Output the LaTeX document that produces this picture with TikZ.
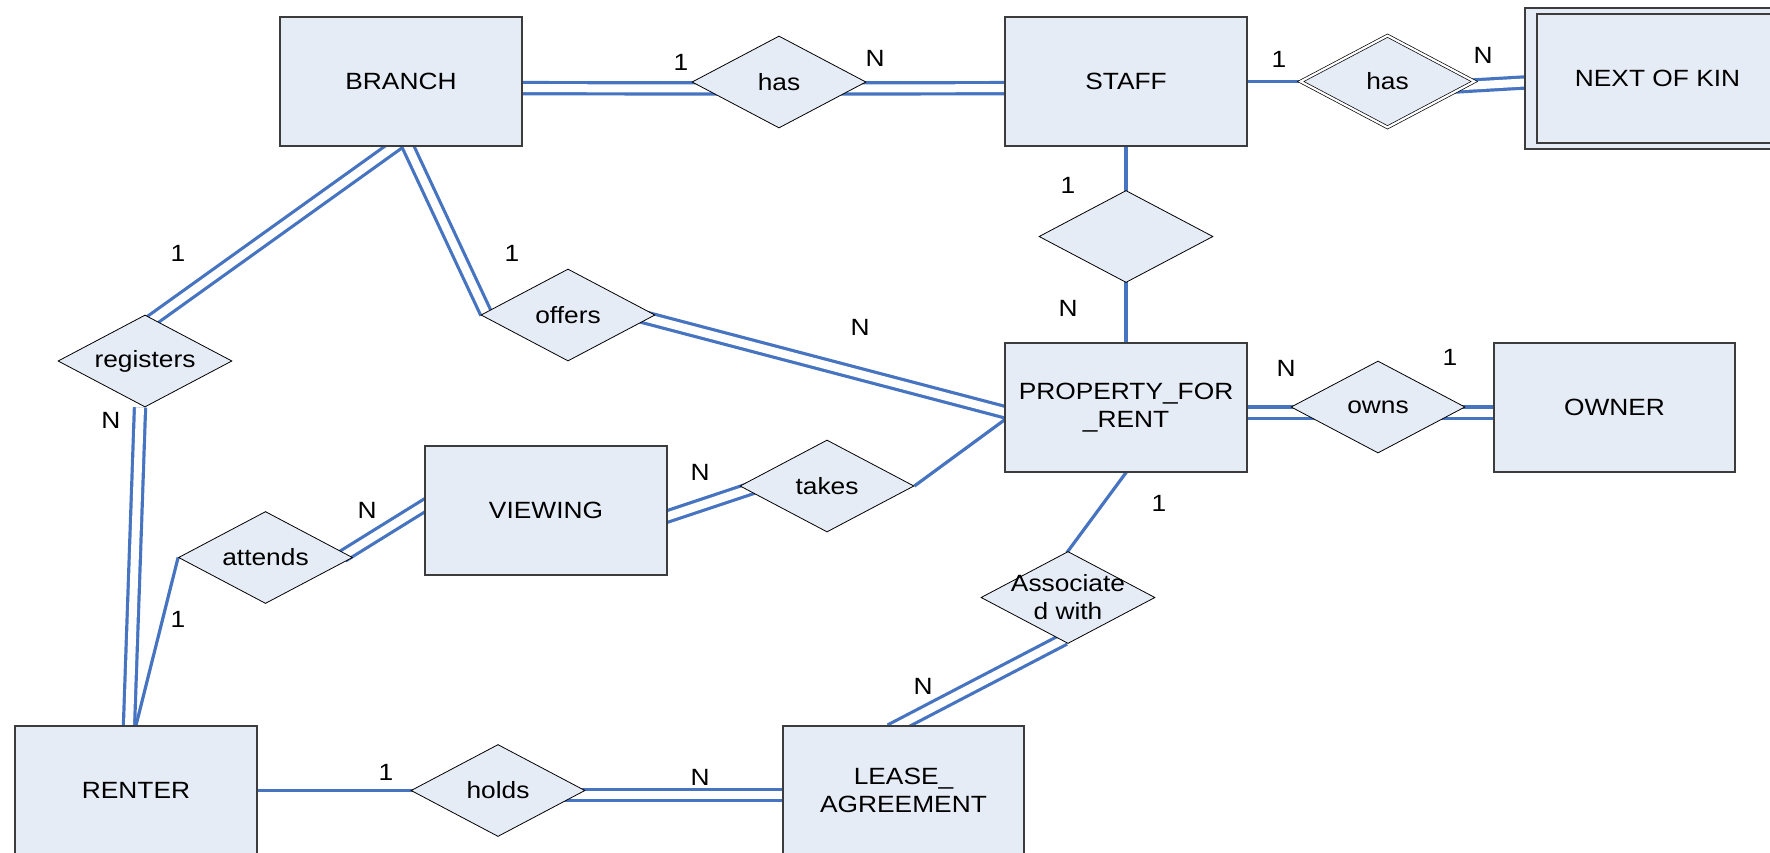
\documentclass[tikz,border=0pt]{standalone}
\usepackage{fontspec}
\setmainfont[FakeStretch=1.12]{Liberation Sans}
\usetikzlibrary{shapes.geometric,backgrounds}
\definecolor{erfill}{RGB}{230,236,246}
\definecolor{erline}{RGB}{70,116,193}
\definecolor{erborder}{RGB}{60,60,60}

\begin{document}
\begin{tikzpicture}[x=1pt,y=-1pt,
  every node/.style={font=\fontsize{23.5}{28}\selectfont, inner sep=2pt},
  entity/.style={rectangle, draw=erborder, line width=1.3pt, fill=erfill,
    minimum width=242pt, minimum height=129pt, align=center},
  rel/.style={diamond, draw=black, line width=0.8pt, fill=erfill,
    minimum width=174pt, minimum height=92pt, inner sep=0pt, aspect=1.89},
  idrel/.style={rel, double=white, double distance=2.2pt, line width=0.7pt},
  card/.style={inner sep=0pt},
  link/.style={draw=erline, line width=3.2pt},
  total/.style={draw=erline, line width=3.2pt, double=white, double distance=8pt},
]
\useasboundingbox (0,0) rectangle (1770,852);
\clip (0,0) rectangle (1770,852);

% entities
\node[entity] (branch) at (401,81.5) {BRANCH};
\node[entity] (staff) at (1126,81.5) {STAFF};
\node[entity, minimum width=265pt, minimum height=141pt] (nok) at (1657.5,78.5) {};
\node[entity, fill=none, minimum width=241pt, minimum height=129pt] (nokin) at (1657.5,78.5) {NEXT OF KIN};
\node[entity] (property) at (1126,407.5) {PROPERTY\_FOR\\\_RENT};
\node[entity, minimum width=241pt] (owner) at (1614.5,407.5) {OWNER};
\node[entity] (viewing) at (546,510.5) {VIEWING};
\node[entity] (renter) at (136,790.5) {RENTER};
\node[entity, minimum width=241pt] (lease) at (903.5,790.5) {LEASE\_\\AGREEMENT};

% relationships
\node[rel] (has1) at (779,82) {has};
\node[idrel] (has2) at (1387.5,81.5) {has};
\node[rel] (staffrel) at (1126,236.5) {};
\node[rel] (offers) at (568,315) {offers};
\node[rel] (registers) at (145,361) {registers};
\node[rel] (owns) at (1378,407) {owns};
\node[rel] (takes) at (827,486) {takes};
\node[rel] (attends) at (265.5,557.5) {attends};
\node[rel, label={[align=center]center:Associate\\d with}] (assoc) at (1068,597.5) {};
\node[rel] (holds) at (498,790.5) {holds};

% connectors, kept behind the shapes
\begin{pgfonlayer}{background}
  % total participation (double lines)
  \draw[total] ([shift={(0,6.5)}]branch.center) -- ([shift={(0,6.5)}]has1.center);
  \draw[total] ([shift={(0,6.5)}]has1.center) -- ([shift={(0,6.5)}]staff.center);
  \draw[total, shorten >=-10pt] ([shift={(0,9)}]has2.center) -- ([shift={(0,4)}]nok.west);
  \draw[total, shorten <=-10pt, shorten >=-6pt] ([shift={(-7,0)}]branch.south) -- ([shift={(9,4)}]registers.north);
  \draw[total, shorten <=-10pt, shorten >=-1pt] ([shift={(7,0)}]branch.south) -- ([shift={(5,-2.5)}]offers.west);
  \draw[total, shorten <=-15pt, shorten >=-10pt] ([shift={(-1,5)}]offers.east) -- ([shift={(0,4.5)}]property.west);
  \draw[total, shorten >=-10pt] ([shift={(-5,0)}]registers.south) -- ([shift={(-7,0)}]renter.north);
  \draw[total, shorten <=-5pt, shorten >=-10pt] ([shift={(-6,-4)}]attends.east) -- ([shift={(0,-5)}]viewing.west);
  \draw[total, shorten >=-14pt] ([shift={(-5,7.5)}]viewing.east) -- ([shift={(1,6)}]takes.west);
  \draw[total] ([shift={(0,5)}]property.center) -- ([shift={(0,5.5)}]owns.center);
  \draw[total] ([shift={(0,5.5)}]owns.center) -- ([shift={(0,5)}]owner.center);
  \draw[total, shorten >=-10pt] ([shift={(-3.5,-4.8)}]assoc.south) -- ([shift={(-4.5,0)}]lease.north);
  \draw[total] ([shift={(0,4.5)}]holds.center) -- ([shift={(0,4.5)}]lease.center);
  % partial participation (single lines)
  \draw[link] (staff.center) -- (has2.center);
  \draw[link] (staff.center) -- (staffrel.center);
  \draw[link] (staffrel.center) -- (property.center);
  \draw[link, shorten >=-5pt] (takes.east) -- ([shift={(0,12.5)}]property.west);
  \draw[link, shorten >=-5pt] (attends.west) -- (renter.north);
  \draw[link, shorten <=-2pt, shorten >=-2pt] (property.south) -- (assoc.north);
  \draw[link] (renter.center) -- (holds.center);
\end{pgfonlayer}

% cardinalities
\node[card] (k1) at (681,62) {1};
\node[card] (k2) at (875,58) {N};
\node[card] (k3) at (1279,59) {1};
\node[card] (k4) at (1483,55) {N};
\node[card] (k5) at (1068,185) {1};
\node[card] (k6) at (1068,308) {N};
\node[card] (k7) at (178,253) {1};
\node[card] (k8) at (512,253) {1};
\node[card] (k9) at (111,420) {N};
\node[card] (k10) at (860,327) {N};
\node[card] (k11) at (1286,368) {N};
\node[card] (k12) at (1450,357) {1};
\node[card] (k13) at (700,472) {N};
\node[card] (k14) at (367,510) {N};
\node[card] (k15) at (178,619) {1};
\node[card] (k16) at (1159,503) {1};
\node[card] (k17) at (923,686) {N};
\node[card] (k18) at (386,772) {1};
\node[card] (k19) at (700,777) {N};
\end{tikzpicture}
\end{document}
